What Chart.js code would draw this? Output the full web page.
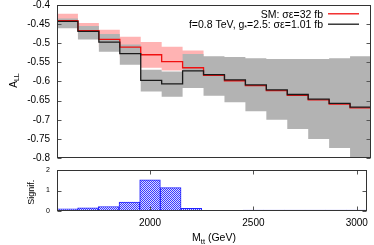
<!DOCTYPE html>
<html>
<head>
<meta charset="utf-8">
<script src="https://cdn.jsdelivr.net/npm/chart.js@4.4.0/dist/chart.umd.min.js"></script>
<style>
  body { margin: 0; background: #fff; }
  #wrap { position: relative; width: 374px; height: 245px; overflow: hidden; }
  canvas { position: absolute; left: 0; }
</style>
</head>
<body>
<div id="wrap">
  <canvas id="allChart" style="top:-9.5px" width="374" height="181"></canvas>
  <canvas id="sigChart" style="top:155.5px" width="374" height="89"></canvas>
</div>
<script>
// bin centres in GeV (100 GeV bins)
const binCenters = [1600, 1700, 1800, 1900, 2000, 2100, 2200, 2300, 2400, 2500, 2600, 2700, 2800, 2900, 3000];

// A_LL for the SM (red) and its band
const smValues = [-0.441, -0.467, -0.490, -0.510, -0.530, -0.548, -0.564, -0.584, -0.598, -0.611, -0.624, -0.636, -0.648, -0.659, -0.669];
const smUpper  = [-0.423, -0.447, -0.465, -0.483, -0.497, -0.509, -0.519, -0.564, -0.578, -0.591, -0.604, -0.616, -0.628, -0.639, -0.649];
const smLower  = [-0.455, -0.482, -0.510, -0.537, -0.564, -0.571, -0.600, -0.604, -0.618, -0.631, -0.644, -0.656, -0.668, -0.679, -0.689];

// A_LL for f=0.8 TeV, g*=2.5 (black) and its band
const bsmValues = [-0.443, -0.469, -0.497, -0.527, -0.597, -0.606, -0.572, -0.582, -0.596, -0.609, -0.622, -0.634, -0.646, -0.657, -0.667];
const bsmUpper  = [-0.435, -0.455, -0.476, -0.503, -0.569, -0.574, -0.528, -0.534, -0.536, -0.539, -0.541, -0.541, -0.541, -0.539, -0.534];
const bsmLower  = [-0.461, -0.490, -0.522, -0.556, -0.626, -0.640, -0.617, -0.637, -0.654, -0.678, -0.700, -0.724, -0.750, -0.774, -0.800];

// significance per bin (lower panel)
const significance = [0.11, 0.16, 0.22, 0.44, 1.52, 1.14, 0.13, 0.03, 0, 0.04, 0.04, 0.04, 0.04, 0.04, 0.04];

const yTicksTop = [-0.4, -0.45, -0.5, -0.55, -0.6, -0.65, -0.7, -0.75, -0.8];
const sigTicks = [0, 1, 2];
const xTicks = [2000, 2500, 3000];

const FONT = "'Liberation Sans', Arial, sans-serif";
Chart.defaults.font.family = FONT;
Chart.defaults.color = '#000';

// turn bin values into points at the bin edges for a stepped line
function toSteps(values) {
    const pts = binCenters.map((c, i) => ({x: c - 50, y: values[i]}));
    pts.push({x: binCenters[binCenters.length - 1] + 50, y: values[values.length - 1]});
    return pts;
}

// checkered fill like gnuplot's pattern
function makeHatch() {
    const c = document.createElement('canvas');
    c.width = 2;
    c.height = 2;
    const g = c.getContext('2d');
    g.fillStyle = '#d8d8ff';
    g.fillRect(0, 0, 2, 2);
    g.fillStyle = '#3c3cff';
    g.fillRect(0, 0, 1, 1);
    g.fillRect(1, 1, 1, 1);
    return g.createPattern(c, 'repeat');
}

// draw pieces of text (for subscripts) in a row
function drawRuns(ctx, runs, x, y, align) {
    let total = 0;
    runs.forEach(r => {
        ctx.font = r[1] + 'px ' + FONT;
        r.w = ctx.measureText(r[0]).width;
        total += r.w;
    });
    let cx = align === 'right' ? x - total : (align === 'center' ? x - total / 2 : x);
    ctx.textAlign = 'left';
    ctx.textBaseline = 'alphabetic';
    runs.forEach(r => {
        ctx.font = r[1] + 'px ' + FONT;
        ctx.fillText(r[0], cx, y + r[2]);
        cx += r.w;
    });
}

// box around the plot area with inward ticks
const framePlugin = {
    id: 'frame',
    afterDatasetsDraw(chart, args, opts) {
        const {ctx, chartArea: a, scales} = chart;
        const l = Math.round(a.left) + 0.5, r = Math.round(a.right) - 0.5;
        const t = Math.round(a.top) + 0.5, b = Math.round(a.bottom) - 0.5;
        ctx.save();
        ctx.lineWidth = 1;
        ctx.strokeStyle = '#555';
        ctx.beginPath();
        (opts.yTicks || []).forEach(v => {
            const y = Math.round(scales.y.getPixelForValue(v)) + 0.5;
            ctx.moveTo(l, y); ctx.lineTo(l + 4, y);
            ctx.moveTo(r, y); ctx.lineTo(r - 4, y);
        });
        (opts.xTicks || []).forEach(v => {
            const x = Math.round(scales.x.getPixelForValue(v)) + 0.5;
            ctx.moveTo(x, t); ctx.lineTo(x, t + 4);
            ctx.moveTo(x, b); ctx.lineTo(x, b - 4);
        });
        ctx.stroke();
        ctx.strokeStyle = opts.color || '#333';
        ctx.strokeRect(l, t, r - l, b - t);
        ctx.restore();
    }
};

// axis title and legend of the upper panel (canvas starts 9.5px above the page)
const mainTextPlugin = {
    id: 'mainText',
    afterDraw(chart) {
        const ctx = chart.ctx;
        ctx.save();
        ctx.fillStyle = '#000';
        ctx.translate(17, 89.5);
        ctx.rotate(-Math.PI / 2);
        drawRuns(ctx, [['A', 10, 0], ['LL', 7, 1.5]], 0, 0, 'center');
        ctx.restore();

        ctx.save();
        ctx.fillStyle = '#000';
        drawRuns(ctx, [['SM: σε=32 fb', 10.5, 0]], 323, 26.5, 'right');
        drawRuns(ctx, [['f=0.8 TeV, g', 10.5, 0], ['*', 7, 2], ['=2.5: σε=1.01 fb', 10.5, 0]], 323, 37, 'right');
        ctx.lineWidth = 1.3;
        ctx.strokeStyle = '#f01010';
        ctx.beginPath(); ctx.moveTo(328, 22.8); ctx.lineTo(359, 22.8); ctx.stroke();
        ctx.strokeStyle = '#1a1a1a';
        ctx.beginPath(); ctx.moveTo(328, 33.2); ctx.lineTo(359, 33.2); ctx.stroke();
        ctx.restore();
    }
};

// lower panel titles (canvas starts at page y 155.5)
const sigTextPlugin = {
    id: 'sigText',
    afterDraw(chart) {
        const ctx = chart.ctx;
        ctx.save();
        ctx.fillStyle = '#000';
        ctx.translate(33.5, 36.2);
        ctx.rotate(-Math.PI / 2);
        drawRuns(ctx, [['Signif.', 9, 0]], 0, 0, 'center');
        ctx.restore();
        ctx.save();
        ctx.fillStyle = '#000';
        drawRuns(ctx, [['M', 10.5, 0], ['tt', 7.5, 2.5], [' (GeV)', 10.5, 0]], 214, 85, 'center');
        ctx.restore();
    }
};

function stepLine(values, color, order) {
    return {
        data: toSteps(values),
        borderColor: color,
        borderWidth: 1.3,
        stepped: true,
        pointRadius: 0,
        fill: false,
        order: order,
    };
}

function band(values, fillColor, fillTo, order) {
    return {
        data: toSteps(values),
        borderColor: 'rgba(0,0,0,0)',
        borderWidth: 0,
        backgroundColor: fillColor,
        stepped: true,
        pointRadius: 0,
        fill: fillTo,
        order: order,
    };
}

const mainChart = new Chart(document.getElementById('allChart'), {
    type: 'line',
    data: {
        datasets: [
            stepLine(bsmValues, '#1a1a1a', 0),
            stepLine(smValues, '#f01010', 1),
            band(bsmUpper, '#b3b3b3', '+1', 2),
            band(bsmLower, 'rgba(0,0,0,0)', false, 2),
            band(smUpper, '#ffb3b3', '+1', 3),
            band(smLower, 'rgba(0,0,0,0)', false, 3),
        ],
    },
    options: {
        responsive: false,
        animation: false,
        events: [],
        layout: {padding: {top: 14, right: 3, bottom: 14, left: 0}},
        plugins: {
            legend: {display: false},
            tooltip: {enabled: false},
            frame: {yTicks: yTicksTop, color: '#333'},
        },
        scales: {
            x: {type: 'linear', min: 1550, max: 3050, display: false},
            y: {
                type: 'linear',
                min: -0.8,
                max: -0.4,
                afterBuildTicks: s => { s.ticks = yTicksTop.map(v => ({value: v})); },
                afterFit: s => { s.width = 57; },
                grid: {display: false, drawTicks: false},
                border: {display: false},
                ticks: {padding: 7, font: {size: 10}, callback: v => String(v)},
            },
        },
    },
    plugins: [framePlugin, mainTextPlugin],
});

const sigChart = new Chart(document.getElementById('sigChart'), {
    type: 'bar',
    data: {
        datasets: [{
            data: binCenters.map((c, i) => ({x: c, y: significance[i]})),
            backgroundColor: makeHatch(),
            borderColor: '#2222ff',
            borderWidth: 1,
            borderSkipped: false,
            barPercentage: 1,
            categoryPercentage: 1,
        }],
    },
    options: {
        responsive: false,
        animation: false,
        events: [],
        layout: {padding: {top: 14, right: 3, bottom: 0, left: 0}},
        plugins: {
            legend: {display: false},
            tooltip: {enabled: false},
            frame: {yTicks: sigTicks, xTicks: xTicks, color: '#333'},
        },
        scales: {
            x: {
                type: 'linear',
                min: 1550,
                max: 3050,
                offset: false,
                afterBuildTicks: s => { s.ticks = xTicks.map(v => ({value: v})); },
                afterFit: s => { s.height = 34; },
                grid: {display: false, offset: false, drawTicks: false},
                border: {display: false},
                ticks: {padding: 6, font: {size: 10}, maxRotation: 0, autoSkip: false, callback: v => String(v)},
            },
            y: {
                type: 'linear',
                min: 0,
                max: 2,
                afterBuildTicks: s => { s.ticks = sigTicks.map(v => ({value: v})); },
                afterFit: s => { s.width = 57; },
                grid: {display: false, drawTicks: false},
                border: {display: false},
                ticks: {padding: 7, font: {size: 7}, callback: v => String(v)},
            },
        },
    },
    plugins: [framePlugin, sigTextPlugin],
});
</script>
</body>
</html>
